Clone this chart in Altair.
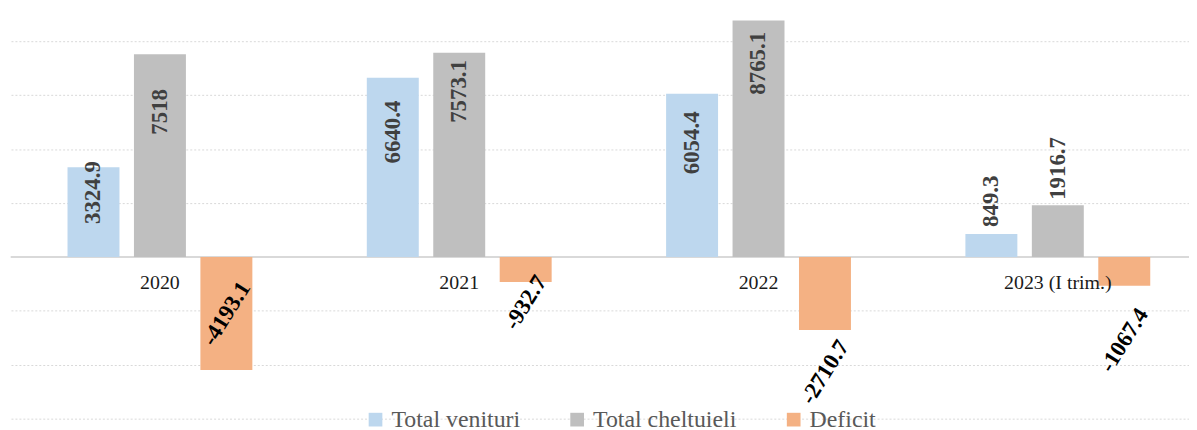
import altair as alt
import pandas as pd

years = ["2020", "2021", "2022", "2023 (I trim.)"]
series = ["Total venituri", "Total cheltuieli", "Deficit"]
venituri = [3324.9, 6640.4, 6054.4, 849.3]
cheltuieli = [7518, 7573.1, 8765.1, 1916.7]
deficit = [-4193.1, -932.7, -2710.7, -1067.4]
colors = ["#BDD7EE", "#BFBFBF", "#F4B183"]

# manual label placement (pixel nudges along the screen y, down positive)
nudge_venituri = [25.5, 54.5, 49.5, -33]
nudge_cheltuieli = [58, 39, 43, -37]
nudge_deficit = [-56.7, 20.7, 42.5, 55]

W, H = 1186, 380
Y_MIN, Y_MAX = -6000, 8000
units_per_px = (Y_MAX - Y_MIN) / H
SERIF = "Liberation Serif"

rows = []
for s, vals, nud in [(series[0], venituri, nudge_venituri),
                     (series[1], cheltuieli, nudge_cheltuieli),
                     (series[2], deficit, nudge_deficit)]:
    for yr, v, n in zip(years, vals, nud):
        rows.append({"year": yr, "series": s, "value": v, "label": str(v), "nudge": n})
df = pd.DataFrame(rows)

x = alt.X("year:N", sort=years, axis=None,
          scale=alt.Scale(paddingInner=0.334, paddingOuter=0.135, align=0.61))
xo = alt.XOffset("series:N", sort=series,
                 scale=alt.Scale(paddingInner=0.218, paddingOuter=0.109))
yscale = alt.Scale(domain=[Y_MIN, Y_MAX], nice=False, zero=False)
yaxis = alt.Axis(values=list(range(Y_MIN, Y_MAX + 1, 2000)), labels=False, ticks=False,
                 domain=False, title=None, grid=True, gridColor="#d9d9d9",
                 gridDash=[2, 2], gridWidth=1)
y = alt.Y("value:Q", scale=yscale, axis=yaxis)

color = alt.Color("series:N", sort=series,
                  scale=alt.Scale(domain=series, range=colors),
                  legend=alt.Legend(orient="none", legendX=355, legendY=369,
                                    direction="horizontal", title=None,
                                    symbolType="square", symbolSize=190,
                                    symbolStrokeWidth=0, symbolOpacity=1,
                                    labelFont=SERIF, labelFontSize=24,
                                    labelColor="#595959", labelOffset=4,
                                    columnPadding=45, padding=0))

zero_rule = alt.Chart().mark_rule(color="#d9d9d9", strokeWidth=2).encode(
    y=alt.YDatum(0, scale=yscale, axis=yaxis)
)

bars = alt.Chart().mark_bar().encode(
    x=x, xOffset=xo, y=y, y2=alt.datum(0), color=color
)

lab_y = alt.Y("ly:Q", scale=yscale, axis=yaxis)

text_vc = alt.Chart().transform_filter(
    alt.datum.series != "Deficit"
).transform_calculate(
    ly=f"datum.value - datum.nudge * {units_per_px}"
).mark_text(angle=270, font=SERIF, fontWeight="bold", fontSize=23,
            color="#404040", baseline="middle", align="center").encode(
    x=x, xOffset=xo, y=lab_y, text="label:N"
)

text_d = alt.Chart().transform_filter(
    alt.datum.series == "Deficit"
).transform_calculate(
    ly=f"datum.value - datum.nudge * {units_per_px}"
).mark_text(angle=302, font=SERIF, fontWeight="bold", fontSize=23,
            color="#000000", baseline="middle", align="center").encode(
    x=x, xOffset=xo, y=lab_y, text="label:N"
)

cats = alt.Chart().transform_filter(
    alt.datum.series == "Total cheltuieli"
).mark_text(font=SERIF, fontSize=20, color="#1a1a1a",
            baseline="middle", align="center", dy=26).encode(
    x=x, y=alt.YDatum(0, scale=yscale, axis=yaxis), text="year:N"
)

chart = alt.layer(zero_rule, bars, text_vc, text_d, cats, data=df).properties(
    width=W, height=H,
    padding={"left": 3, "top": 32, "right": 0, "bottom": 10},
    autosize=alt.AutoSizeParams(type="none"),
).configure(font=SERIF).configure_view(stroke=None).configure_legend(labelFont=SERIF)

chart.save("out.html", embed_options={"renderer": "svg", "actions": False})
